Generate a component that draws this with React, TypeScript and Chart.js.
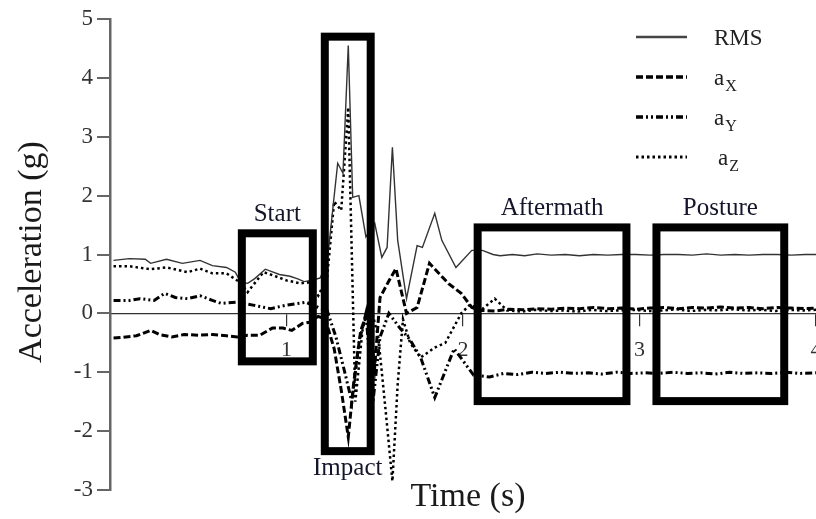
import React, { useEffect, useRef } from 'react';
import { Chart, registerables } from 'chart.js';

Chart.register(...registerables);

// ---- data (time in s, acceleration in g) ----
const rmsTime = [0.02, 0.11, 0.2, 0.23, 0.32, 0.41, 0.51, 0.58, 0.66, 0.71, 0.74, 0.78, 0.82, 0.88, 0.96, 1.02, 1.06, 1.1, 1.14, 1.19, 1.23, 1.26, 1.29, 1.32, 1.35, 1.375, 1.41, 1.45, 1.5, 1.54, 1.57, 1.6, 1.63, 1.68, 1.74, 1.77, 1.84, 1.88, 1.96, 2.05, 2.11, 2.17, 2.21, 2.28, 2.35, 2.42, 2.5, 2.58, 2.66, 2.74, 2.82, 2.9, 2.98, 3.06, 3.14, 3.22, 3.3, 3.38, 3.46, 3.54, 3.62, 3.7, 3.78, 3.86, 3.94, 4.0];
const rmsValues = [0.9, 0.93, 0.92, 0.85, 0.92, 0.85, 0.9, 0.81, 0.78, 0.7, 0.53, 0.51, 0.59, 0.75, 0.66, 0.63, 0.59, 0.54, 0.56, 0.6, 0.85, 1.71, 2.55, 2.38, 4.55, 1.97, 2.0, 1.3, 1.53, 0.95, 1.12, 2.82, 1.24, 0.25, 1.15, 1.12, 1.7, 1.24, 0.78, 1.07, 1.07, 1.0, 0.98, 1.0, 0.98, 1.01, 0.99, 1.0, 0.98, 1.0, 0.99, 1.0, 1.0, 0.99, 1.0, 1.0, 0.99, 1.01, 0.99, 1.0, 0.99, 1.0, 1.0, 0.99, 1.0, 1.0];

const axTime = [0.02, 0.09, 0.15, 0.23, 0.28, 0.35, 0.42, 0.5, 0.58, 0.66, 0.72, 0.78, 0.85, 0.92, 0.98, 1.03, 1.09, 1.13, 1.18, 1.22, 1.27, 1.31, 1.35, 1.38, 1.42, 1.46, 1.5, 1.53, 1.58, 1.62, 1.68, 1.74, 1.81, 1.92, 1.99, 2.05, 2.1, 2.18, 2.26, 2.34, 2.42, 2.5, 2.58, 2.66, 2.74, 2.82, 2.9, 2.98, 3.06, 3.14, 3.22, 3.3, 3.38, 3.46, 3.54, 3.62, 3.7, 3.78, 3.86, 3.94, 4.0];
const axValues = [-0.42, -0.4, -0.38, -0.29, -0.36, -0.4, -0.36, -0.37, -0.36, -0.38, -0.4, -0.37, -0.37, -0.25, -0.25, -0.29, -0.17, -0.15, -0.05, -0.1, -0.6, -1.3, -2.1, -1.2, -0.3, 0.05, -0.9, 0.27, 0.55, 0.76, 0.0, 0.1, 0.85, 0.5, 0.34, 0.1, 0.05, 0.04, 0.07, 0.06, 0.08, 0.07, 0.09, 0.08, 0.1, 0.08, 0.09, 0.07, 0.09, 0.1, 0.08, 0.1, 0.09, 0.11, 0.09, 0.1, 0.08, 0.1, 0.09, 0.08, 0.09];

const ayTime = [0.02, 0.11, 0.17, 0.25, 0.31, 0.37, 0.44, 0.51, 0.58, 0.63, 0.72, 0.81, 0.91, 1.0, 1.11, 1.18, 1.23, 1.28, 1.33, 1.37, 1.41, 1.45, 1.49, 1.53, 1.58, 1.64, 1.7, 1.76, 1.84, 1.95, 2.06, 2.15, 2.23, 2.31, 2.39, 2.47, 2.55, 2.63, 2.71, 2.79, 2.87, 2.95, 3.03, 3.11, 3.19, 3.27, 3.35, 3.43, 3.51, 3.59, 3.67, 3.75, 3.83, 3.91, 4.0];
const ayValues = [0.22, 0.22, 0.25, 0.22, 0.34, 0.27, 0.25, 0.3, 0.22, 0.17, 0.19, 0.14, 0.08, 0.14, 0.19, 0.1, 0.05, -0.4, -1.0, -1.5, -0.5, 0.0, -1.5, -0.4, 0.0, -0.24, -0.45, -0.75, -1.43, -0.6, -1.05, -1.08, -1.02, -1.04, -1.0, -1.02, -1.0, -1.02, -1.01, -1.03, -1.0, -1.02, -1.01, -1.02, -1.0, -1.02, -1.01, -1.03, -1.0, -1.02, -1.01, -1.02, -1.0, -1.02, -1.01];

const azTime = [0.02, 0.11, 0.23, 0.32, 0.44, 0.51, 0.58, 0.66, 0.72, 0.74, 0.78, 0.8, 0.87, 0.92, 1.0, 1.08, 1.12, 1.18, 1.23, 1.27, 1.31, 1.35, 1.37, 1.39, 1.43, 1.47, 1.52, 1.56, 1.6, 1.63, 1.66, 1.7, 1.76, 1.84, 1.9, 1.99, 2.04, 2.1, 2.18, 2.25, 2.33, 2.41, 2.49, 2.57, 2.65, 2.73, 2.81, 2.89, 2.97, 3.05, 3.13, 3.21, 3.29, 3.37, 3.45, 3.53, 3.61, 3.69, 3.77, 3.85, 3.93, 4.0];
const azValues = [0.8, 0.8, 0.75, 0.78, 0.7, 0.76, 0.68, 0.68, 0.56, 0.51, 0.36, 0.44, 0.7, 0.65, 0.56, 0.51, 0.53, 0.3, 0.6, 1.9, 1.75, 3.5, 1.0, -1.5, -0.3, 0.2, -0.4, -1.6, -2.85, -1.2, -0.1, -0.5, -0.75, -0.58, -0.5, 0.0, 0.15, 0.05, 0.25, 0.05, 0.03, 0.06, 0.04, 0.05, 0.03, 0.06, 0.04, 0.05, 0.06, 0.04, 0.05, 0.07, 0.04, 0.06, 0.05, 0.07, 0.05, 0.06, 0.04, 0.06, 0.05, 0.06];

const seriesNames = ['RMS', 'aX', 'aY', 'aZ'];
const legendMain = ['RMS', 'a', 'a', 'a'];
const legendSub = ['', 'X', 'Y', 'Z'];

const xTickValues = [1, 2, 3, 4];
const yMin = -3;
const yMax = 5;

const regionNames = ['Start', 'Impact', 'Aftermath', 'Posture'];
const regionTimeStart = [0.747, 1.217, 2.083, 3.096];
const regionTimeEnd = [1.149, 1.477, 2.926, 3.82];
const regionTop = [1.36, 4.7, 1.46, 1.46];
const regionBottom = [-0.815, -2.34, -1.49, -1.49];
const regionLabelBelow = [false, true, false, false];

const xTitle = 'Time (s)';
const yTitle = 'Acceleration (g)';

const SERIF = '"Liberation Serif", "DejaVu Serif", serif';

const toPoints = (t: number[], v: number[]) => t.map((x, i) => ({ x, y: v[i] }));

const dashStyles = [[], [7, 3], [7, 3, 2, 3, 2, 3], [2.5, 3]];
const widths = [1.4, 3, 3, 2.5];
const colors = ['#333333', '#000000', '#000000', '#000000'];

const overlayPlugin = {
  id: 'overlay',
  afterDatasetsDraw(chart: any) {
    const { ctx, scales } = chart;
    const xs = scales.x;
    const ys = scales.y;
    ctx.save();
    // region boxes
    ctx.setLineDash([]);
    regionNames.forEach((name, i) => {
      const x0 = xs.getPixelForValue(regionTimeStart[i]);
      const x1 = xs.getPixelForValue(regionTimeEnd[i]);
      const y0 = ys.getPixelForValue(regionTop[i]);
      const y1 = ys.getPixelForValue(regionBottom[i]);
      ctx.strokeStyle = '#000';
      ctx.lineWidth = 8;
      ctx.strokeRect(x0, y0, x1 - x0, y1 - y0);
      ctx.fillStyle = '#14142a';
      ctx.font = `25px ${SERIF}`;
      ctx.textAlign = 'center';
      ctx.textBaseline = 'middle';
      const cx = (x0 + x1) / 2;
      const ly = regionLabelBelow[i] ? y1 + 17 : y0 - 19;
      ctx.fillText(name, cx, ly);
    });

    // legend
    const lx0 = 636;
    const lx1 = 687;
    const rows = [37, 77, 117, 157];
    seriesNames.forEach((_, i) => {
      ctx.beginPath();
      ctx.setLineDash(dashStyles[i]);
      ctx.lineWidth = i === 0 ? 2.5 : widths[i] + 0.5;
      ctx.strokeStyle = i === 0 ? '#444' : '#000';
      ctx.moveTo(lx0, rows[i]);
      ctx.lineTo(lx1, rows[i]);
      ctx.stroke();
      ctx.setLineDash([]);
      ctx.fillStyle = '#222';
      ctx.textAlign = 'left';
      ctx.textBaseline = 'alphabetic';
      ctx.font = `23px ${SERIF}`;
      const tx = i === 3 ? 718 : 714;
      const base = rows[i] + 8;
      ctx.fillText(legendMain[i], tx, base);
      if (legendSub[i]) {
        const w = ctx.measureText(legendMain[i]).width;
        ctx.font = `16px ${SERIF}`;
        ctx.fillText(legendSub[i], tx + w + 1, base + 6);
      }
    });

    // axis titles
    ctx.fillStyle = '#1a1a1a';
    ctx.font = `34px ${SERIF}`;
    ctx.textAlign = 'center';
    ctx.textBaseline = 'middle';
    ctx.fillText(xTitle, 468, 497);
    ctx.translate(32, 252);
    ctx.rotate(-Math.PI / 2);
    ctx.fillText(yTitle, 0, 0);
    ctx.restore();
  },
};

export default function App() {
  const ref = useRef<HTMLCanvasElement | null>(null);
  useEffect(() => {
    if (!ref.current) return;
    const makeSet = (i: number, t: number[], v: number[]) => ({
      label: seriesNames[i],
      data: toPoints(t, v),
      borderColor: colors[i],
      borderWidth: widths[i],
      borderDash: dashStyles[i],
      pointRadius: 0,
      tension: 0,
      fill: false,
    });
    const chart = new Chart(ref.current, {
      type: 'line',
      data: {
        datasets: [
          makeSet(0, rmsTime, rmsValues),
          makeSet(1, axTime, axValues),
          makeSet(2, ayTime, ayValues),
          makeSet(3, azTime, azValues),
        ],
      },
      options: {
        animation: false,
        responsive: false,
        devicePixelRatio: 1,
        layout: { padding: { left: 0, right: 0, top: 19, bottom: 29 } },
        plugins: { legend: { display: false }, tooltip: { enabled: false } },
        scales: {
          x: {
            type: 'linear',
            min: 0,
            max: 4,
            position: { y: 0 } as any,
            afterFit: (s: any) => {
              s.height = 0;
              s.paddingLeft = 0;
              s.paddingRight = 0;
            },
            afterBuildTicks: (s: any) => {
              s.ticks = xTickValues.map((v) => ({ value: v }));
            },
            ticks: {
              autoSkip: false,
              maxRotation: 0,
              padding: 12,
              color: '#333',
              font: { family: SERIF, size: 22 },
            },
            grid: { drawOnChartArea: false, tickLength: 12, color: '#333', lineWidth: 1.2 },
            border: { color: '#333', width: 1.2 },
          },
          y: {
            type: 'linear',
            min: yMin,
            max: yMax,
            position: 'left',
            afterFit: (s: any) => {
              s.width = 110;
              s.paddingTop = 0;
              s.paddingBottom = 0;
            },
            ticks: {
              stepSize: 1,
              padding: 4,
              color: '#333',
              font: { family: SERIF, size: 23 },
            },
            grid: { drawOnChartArea: false, tickLength: 13, color: '#666', lineWidth: 2 },
            border: { color: '#666', width: 2.5 },
          },
        },
      },
      plugins: [overlayPlugin],
    });
    return () => chart.destroy();
  }, []);
  return (
    <div style={{ position: 'fixed', left: 0, top: 0, width: 816, height: 519, background: '#fff' }}>
      <canvas ref={ref} width={816} height={519} />
    </div>
  );
}
